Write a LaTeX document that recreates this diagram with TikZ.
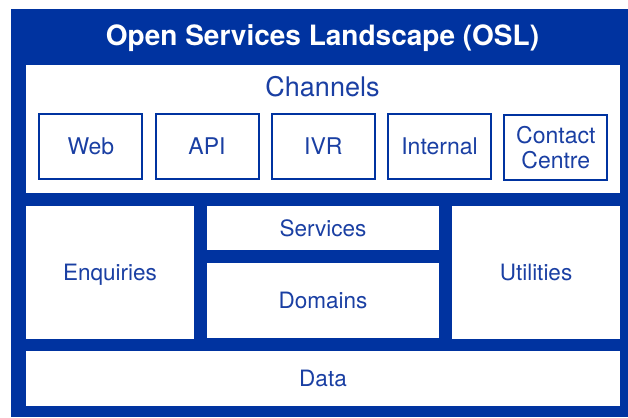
\documentclass[tikz,border=0pt]{standalone}
\usepackage{fontspec}
\setmainfont{TeX Gyre Heros}
\definecolor{oslblue}{HTML}{0033A0}
\definecolor{osltext}{HTML}{1A3FA3}
\tikzset{
  panel/.style={fill=white, draw=none, anchor=north west, inner sep=0pt, outer sep=0pt,
    text=osltext, font=\fontsize{22.5}{26}\selectfont, align=center, text depth=0pt},
  channelbox/.style={fill=white, draw=oslblue, line width=2pt, anchor=north west,
    inner sep=0pt, outer sep=0pt, minimum width=103pt, minimum height=65pt,
    text=osltext, font=\fontsize{23}{26}\selectfont, align=center, text depth=0pt},
}
\begin{document}
\begin{tikzpicture}[x=1pt, y=-1pt]
  \useasboundingbox (0,0) rectangle (628,417);
  % outer frame
  \fill[oslblue] (11,9) rectangle (628,417);
  \node[font=\fontsize{28}{30}\selectfont\bfseries, text=white] (title) at (322.5,38) {Open Services Landscape (OSL)};

  % channels area
  \node[panel, minimum width=594pt, minimum height=128pt] (channels) at (26,65) {};
  \node[text=osltext, font=\fontsize{27}{30}\selectfont, text depth=0pt] (chlabel) at (322.5,86) {Channels};
  \node[channelbox] (web) at (39.3,113.7) {Web};
  \node[channelbox] (api) at (155.5,113.7) {API};
  \node[channelbox] (ivr) at (271.8,113.7) {IVR};
  \node[channelbox] (internal) at (388.0,113.7) {Internal};
  \node[channelbox, font=\fontsize{23}{25}\selectfont, text depth=, yshift=-1pt] (contact) at (504.3,113.7) {Contact\\Centre};

  % middle layer
  \node[panel, minimum width=168pt, minimum height=133pt] (enquiries) at (26,206) {Enquiries};
  \node[panel, minimum width=232pt, minimum height=44pt] (services) at (207,206) {Services};
  \node[panel, minimum width=232pt, minimum height=75pt] (domains) at (207,263) {Domains};
  \node[panel, minimum width=168pt, minimum height=133pt] (utilities) at (452,206) {Utilities};

  % data layer
  \node[panel, minimum width=594pt, minimum height=55pt] (data) at (26,351) {Data};
\end{tikzpicture}
\end{document}
